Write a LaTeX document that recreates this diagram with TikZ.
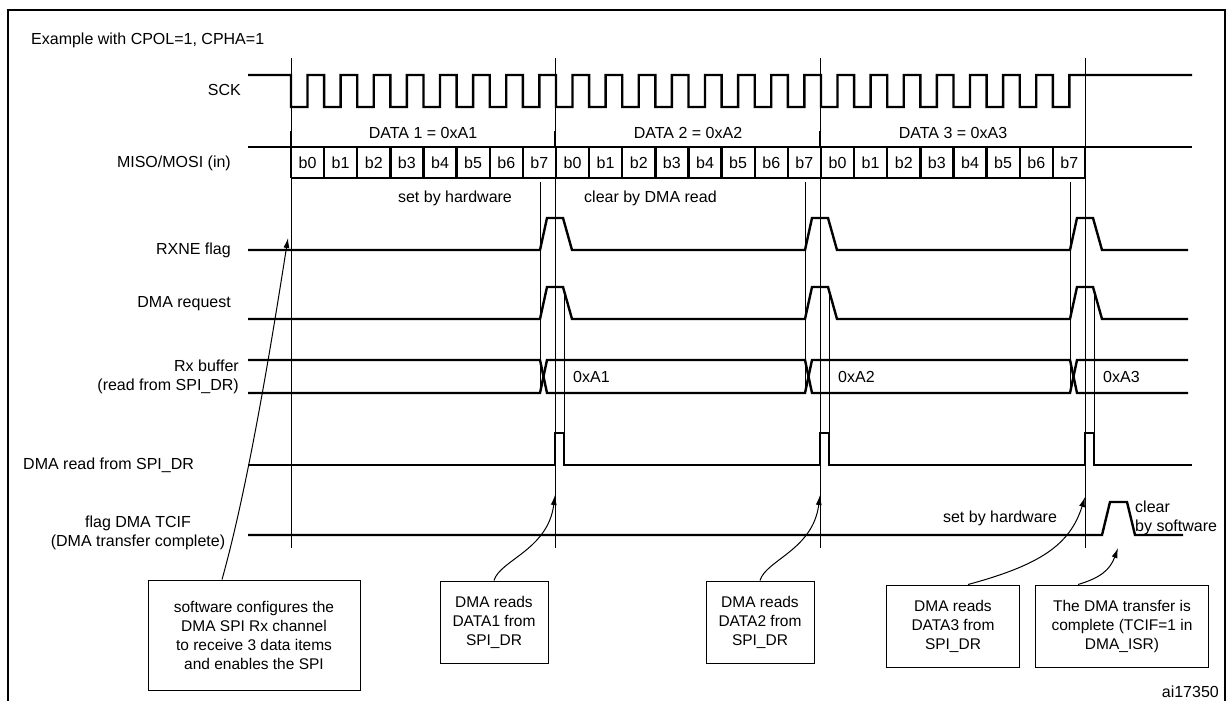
\documentclass[tikz,border=0pt]{standalone}
\usepackage{fontspec}
\setmainfont{Liberation Sans}
\usetikzlibrary{arrows.meta}
\tikzset{
  wave/.style={line width=2.4pt},
  guide/.style={line width=0.7pt},
  lbl/.style={font=\fontsize{16}{18.5}\selectfont, inner sep=1pt},
  note/.style={draw, line width=1pt, align=center, font=\fontsize{15.5}{19}\selectfont},
  pointer/.style={line width=1pt, -{Latex[length=10pt,width=6pt]}}
}
\begin{document}
\begin{tikzpicture}[x=1pt,y=-1pt]
        \useasboundingbox (0,0) rectangle (1232,701);
        % frame
        \draw[line width=1.6pt] (8,701) -- (8,10) -- (1225,10) -- (1225,701);
        \node[lbl, anchor=west] (example) at (30,40) {Example with CPOL=1, CPHA=1};

        % signal names
        \node[lbl, anchor=east] (sck) at (242,90) {SCK};
        \node[lbl, anchor=east] (miso) at (232,163) {MISO/MOSI (in)};
        \node[lbl, anchor=east] (rxne) at (232,250) {RXNE flag};
        \node[lbl, anchor=east] (dmareq) at (232,304) {DMA request};
        \node[lbl, align=right, anchor=east] (rxbuf) at (240,377) {Rx buffer\\(read from SPI\_DR)};
        \node[lbl, anchor=west] (dmard) at (22,465) {DMA read from SPI\_DR};
        \node[lbl, align=center] (tcif) at (138,533) {flag DMA TCIF\\(DMA transfer complete)};

        % byte markers
        \foreach \x in {291,555,820,1085} {
            \draw[guide] (\x,58) -- (\x,548);
        }
        \foreach \x in {291,555,820} {
            \draw[line width=2pt] (\x,131) -- (\x,147);
        }
        \foreach \x in {540,805,1070} {
            \draw[guide] (\x,182) -- (\x,392);
            \draw[guide] (\x+24,290) -- (\x+24,433);
        }

        % SCK
        \draw[wave] (248,75) -- (291,75)
            \foreach \k in {0,...,23} { -- ({291+33.125*\k},107) -- ({307.5+33.125*\k},107) -- ({307.5+33.125*\k},75) -- ({324.1+33.125*\k},75) }
            -- (1192,75);

        % MISO/MOSI
        \draw[wave] (248,147) -- (1192,147);
        \draw[wave] (291,178) -- (1085,178);
        \foreach \b/\x in {0/555,1/820,2/1085} {
            \pgfmathtruncatemacro{\n}{\b+1}
            \node[lbl] (data\n) at ({\x-132},133) {DATA \n\ = 0xA\n};
            \node[lbl] (rx\n) at ({\x+17},377) [anchor=west] {0xA\n};
        }
        \foreach \k in {0,...,23} {
            \pgfmathtruncatemacro{\bit}{mod(\k,8)}
            \draw[wave] ({291+33.125*\k},147) -- ({291+33.125*\k},178);
            \node[lbl] (bit\k) at ({307.5+33.125*\k},163) {b\bit};
        }
        \draw[wave] (1085,147) -- (1085,178);

        % RXNE flag and DMA request
        \foreach \y/\h in {250/218, 319/287} {
            \draw[wave] (248,\y) -- (540,\y) -- (547,\h) -- (563,\h) -- (572,\y)
                -- (805,\y) -- (812,\h) -- (828,\h) -- (837,\y)
                -- (1070,\y) -- (1077,\h) -- (1093,\h) -- (1102,\y) -- (1188,\y);
        }
        \node[lbl] (sethw) at (455,198) {set by hardware};
        \node[lbl, anchor=west] (clrdma) at (583,198) {clear by DMA read};

        % Rx buffer
        \draw[wave] (248,360) -- (540,360) -- (547,393) -- (805,393) -- (812,360) -- (1070,360) -- (1077,393) -- (1188,393);
        \draw[wave] (248,393) -- (540,393) -- (547,360) -- (805,360) -- (812,393) -- (1070,393) -- (1077,360) -- (1188,360);

        % DMA read from SPI_DR
        \draw[wave] (248,465) \foreach \x in {555,820,1085} { -- (\x,465) -- (\x,433) -- (\x+9,433) -- (\x+9,465) } -- (1192,465);

        % flag DMA TCIF
        \draw[wave] (248,535) -- (1102,535) -- (1110,502) -- (1127,502) -- (1135,535) -- (1183,535);
        \node[lbl] (sethw2) at (1000,518) {set by hardware};
        \node[lbl, anchor=west, align=left] (clrsw) at (1134,518) {clear\\by software};

        % notes
        \node[note, minimum width=212pt, minimum height=110pt] (cfg) at (254,635) {software configures the\\DMA SPI Rx channel\\to receive 3 data items\\and enables the SPI};
        \node[note, minimum width=108pt, minimum height=82pt] (rd1) at (494,622) {DMA reads\\DATA1 from\\SPI\_DR};
        \node[note, minimum width=108pt, minimum height=82pt] (rd2) at (760,622) {DMA reads\\DATA2 from\\SPI\_DR};
        \node[note, minimum width=133pt, minimum height=82pt] (rd3) at (953,626) {DMA reads\\DATA3 from\\SPI\_DR};
        \node[note, minimum width=173pt, minimum height=82pt] (done) at (1122,626) {The DMA transfer is\\complete (TCIF=1 in\\DMA\_ISR)};

        \coordinate (t0) at (288,238);
        \coordinate (t1) at (555,495);
        \coordinate (t2) at (820,495);
        \coordinate (t3) at (1085,497);
        \coordinate (t4) at (1118,548);

        \draw[pointer] (cfg.north) ++(-32,0) .. controls (250,480) and (275,320) .. (t0);
        \draw[pointer] (rd1.north) .. controls (500,560) and (548,550) .. (t1);
        \draw[pointer] (rd2.north) .. controls (766,560) and (813,550) .. (t2);
        \draw[pointer] (rd3.north) ++(15,0) .. controls (1040,565) and (1070,545) .. (t3);
        \draw[pointer] (done.north) ++(-44,0) .. controls (1100,578) and (1110,570) .. (t4);

        \node[lbl, anchor=south east] (ref) at (1220,699) {ai17350};
\end{tikzpicture}
\end{document}
